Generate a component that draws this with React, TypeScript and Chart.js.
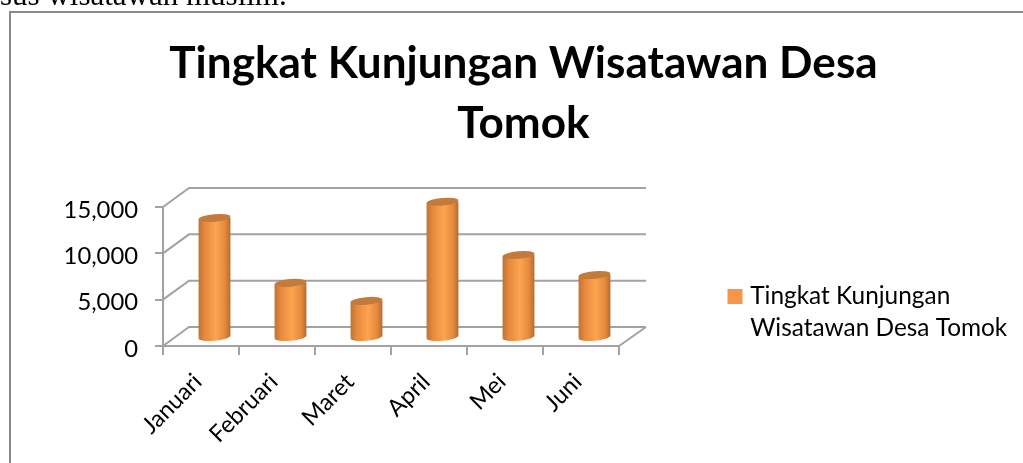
import React, { useEffect, useRef } from "react";
import { Chart, registerables } from "chart.js";

Chart.register(...registerables);

const categories = ["Januari", "Februari", "Maret", "April", "Mei", "Juni"];
const visitors = [12950, 5950, 4000, 14700, 8950, 6800];
const titleLines = ["Tingkat Kunjungan Wisatawan Desa", "Tomok"];
const seriesName = "Tingkat Kunjungan Wisatawan Desa Tomok";
const legendLines = ["Tingkat Kunjungan", "Wisatawan Desa Tomok"];
const yTicks = [0, 5000, 10000, 15000];
const pageFragment = "sus wisatawan muslim.";

const FONT = "Lato, Carlito, sans-serif";
const GRID = "#a2a2a2";
const FRAME = "#8a8a8a";
const ORANGE = "#f79646";
const DEPTH_X = 26;
const DEPTH_Y = -19;
const BAR_DX = 13.5;
const BAR_DY = -8;
const BAR_W = 32;

const threeD = {
  id: "threeD",
  beforeDraw(chart: any) {
    const { ctx, width, height } = chart;
    ctx.save();
    ctx.strokeStyle = FRAME;
    ctx.lineWidth = 2;
    ctx.beginPath();
    ctx.moveTo(10, height);
    ctx.lineTo(10, 12);
    ctx.lineTo(width, 12);
    ctx.stroke();
    ctx.restore();
  },
  beforeDatasetsDraw(chart: any) {
    const { ctx, scales, chartArea } = chart;
    ctx.save();
    ctx.strokeStyle = GRID;
    ctx.lineWidth = 2;
    for (const v of yTicks) {
      const y = scales.y.getPixelForValue(v);
      ctx.beginPath();
      ctx.moveTo(chartArea.left, y);
      ctx.lineTo(chartArea.left + DEPTH_X, y + DEPTH_Y);
      ctx.lineTo(chartArea.right + DEPTH_X + 1, y + DEPTH_Y);
      ctx.stroke();
    }
    ctx.beginPath();
    ctx.moveTo(chartArea.right, chartArea.bottom);
    ctx.lineTo(chartArea.right + DEPTH_X + 1, chartArea.bottom + DEPTH_Y);
    ctx.stroke();
    ctx.restore();
  },
  beforeDatasetDraw(chart: any, args: any) {
    const { ctx } = chart;
    ctx.save();
    ctx.translate(BAR_DX, BAR_DY);
    ctx.save();
    ctx.beginPath();
    for (const bar of args.meta.data) {
      const l = bar.x - BAR_W / 2;
      const r = bar.x + BAR_W / 2;
      ctx.moveTo(l, bar.y + 1.4);
      ctx.lineTo(r, bar.y - 1.4);
      ctx.lineTo(r, bar.base - 1.4);
      ctx.lineTo(l, bar.base + 1.4);
      ctx.closePath();
    }
    ctx.clip();
  },
  afterDatasetDraw(chart: any, args: any) {
    const { ctx } = chart;
    ctx.restore();
    args.meta.data.forEach((bar: any) => {
      ctx.fillStyle = bar.options.backgroundColor;
      ctx.beginPath();
      ctx.ellipse(bar.x, bar.base, BAR_W / 2, 3.8, -0.09, 0, Math.PI * 2);
      ctx.fill();
      ctx.fillStyle = "#c47a3a";
      ctx.beginPath();
      ctx.ellipse(bar.x, bar.y, BAR_W / 2, 3.8, -0.09, 0, Math.PI * 2);
      ctx.fill();
    });
    ctx.restore();
  },
  afterLayout(chart: any) {
    chart.titleBlock.left = 24;
    chart.titleBlock.right = 1023;
    // the legend clips to its own box, so the box starts a little left of the swatch
    chart.legend.left = 722;
    chart.legend.right = 1023;
    chart.legend.top = 274.3;
    chart.legend.bottom = 360;
  },
};

export default function App() {
  const ref = useRef<HTMLCanvasElement>(null);
  useEffect(() => {
    const chart = new Chart(ref.current as HTMLCanvasElement, {
      type: "bar",
      plugins: [threeD],
      data: {
        labels: categories,
        datasets: [
          {
            label: seriesName,
            data: visitors,
            clip: false,
            borderWidth: 0,
            barThickness: BAR_W,
            backgroundColor: (c: any) => {
              const cx = c.chart.scales.x.getPixelForValue(c.dataIndex);
              const g = c.chart.ctx.createLinearGradient(cx - BAR_W / 2, 0, cx + BAR_W / 2, 0);
              g.addColorStop(0, "#bf7231");
              g.addColorStop(0.2, "#e68a3e");
              g.addColorStop(0.55, "#fda44f");
              g.addColorStop(0.85, "#e0873c");
              g.addColorStop(1, "#b46a2c");
              return g;
            },
          } as any,
        ],
      },
      options: {
        responsive: false,
        animation: false,
        layout: { autoPadding: false, padding: { left: 24, right: 403, top: 0, bottom: 0 } },
        scales: {
          x: {
            offset: true,
            afterFit: (s: any) => {
              s.height = 117;
            },
            border: { color: GRID, width: 2 },
            grid: { offset: true, drawOnChartArea: false, color: GRID, lineWidth: 2, tickLength: 9 },
            ticks: {
              minRotation: 45,
              maxRotation: 45,
              padding: 13,
              labelOffset: -3,
              color: "#000",
              font: { family: FONT, size: 23.5 },
            },
          },
          y: {
            min: 0,
            max: 15000,
            afterFit: (s: any) => {
              s.width = 139;
            },
            afterBuildTicks: (s: any) => {
              s.ticks = yTicks.map((value) => ({ value }));
            },
            border: { color: GRID, width: 2 },
            grid: { drawOnChartArea: false, color: GRID, lineWidth: 2, tickLength: 8 },
            ticks: {
              padding: 17,
              labelOffset: 3,
              color: "#000",
              font: { family: FONT, size: 23.8 },
              callback: (v: any) => Number(v).toLocaleString("en-US"),
            },
          },
        },
        plugins: {
          tooltip: { enabled: false },
          title: {
            display: true,
            text: titleLines,
            color: "#000",
            padding: { top: 34, bottom: 53 },
            font: { family: FONT, size: 44.1, weight: "bold", lineHeight: "60px" },
          },
          legend: {
            display: true,
            position: "right",
            align: "start",
            maxWidth: 1,
            labels: {
              padding: 10,
              boxWidth: 6,
              boxHeight: 6,
              color: "#000",
              font: { family: FONT, size: 24.4, lineHeight: "32px" },
              generateLabels: () => [
                {
                  text: legendLines,
                  fillStyle: ORANGE,
                  strokeStyle: ORANGE,
                  lineWidth: 9,
                  datasetIndex: 0,
                } as any,
              ],
            },
          },
        },
      } as any,
    });
    return () => chart.destroy();
  }, []);
  return (
    <div style={{ position: "fixed", left: 0, top: 0, width: 1023, height: 463, overflow: "hidden", background: "#fff" }}>
      <canvas ref={ref} width={1023} height={463} style={{ position: "absolute", left: 0, top: 0 }} />
      <div
        style={{
          position: "absolute",
          left: 0,
          top: -23,
          fontFamily: "'Liberation Serif', serif",
          fontSize: 31,
          lineHeight: "36px",
          whiteSpace: "nowrap",
          color: "#000",
        }}
      >
        {pageFragment}
      </div>
    </div>
  );
}
